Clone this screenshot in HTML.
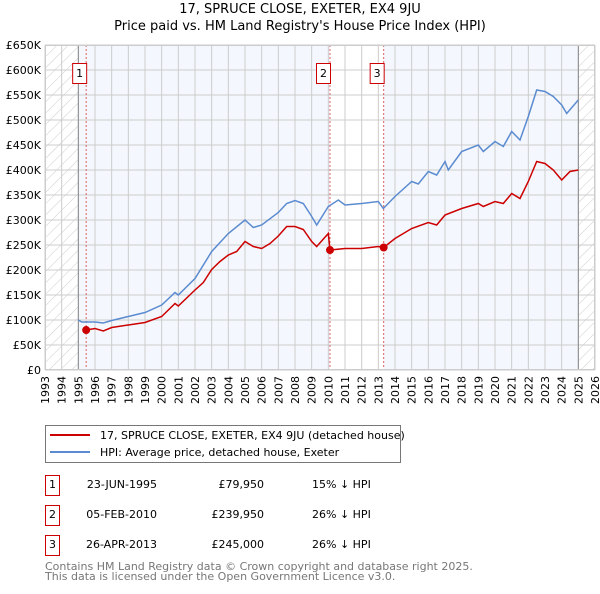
<!DOCTYPE html>
<html><head><meta charset="utf-8"><style>
body{margin:0;background:#fff;font-family:"DejaVu Sans","Liberation Sans",sans-serif;}
svg text{font-family:"DejaVu Sans","Liberation Sans",sans-serif;}
</style></head><body>
<svg id="chart" width="600" height="590" xmlns="http://www.w3.org/2000/svg">
<defs><pattern id="hatch" patternUnits="userSpaceOnUse" width="8" height="8" patternTransform="rotate(45)"><line x1="0" y1="0" x2="0" y2="8" stroke="#ccc" stroke-width="1"/></pattern></defs>
<text x="300" y="13" text-anchor="middle" font-size="13">17, SPRUCE CLOSE, EXETER, EX4 9JU</text>
<text x="300" y="30" text-anchor="middle" font-size="13">Price paid vs. HM Land Registry's House Price Index (HPI)</text>
<g id="plot"></g>
<g>
<rect x="45.5" y="425.5" width="355" height="37" fill="#fff" stroke="#777"/>
<line x1="50" y1="435" x2="90" y2="435" stroke="#cc0000" stroke-width="2"/>
<text x="100" y="439" font-size="11">17, SPRUCE CLOSE, EXETER, EX4 9JU (detached house)</text>
<line x1="50" y1="452" x2="90" y2="452" stroke="#5b8bd0" stroke-width="2"/>
<text x="100" y="456" font-size="11">HPI: Average price, detached house, Exeter</text>
</g>
<g font-size="11">
<rect x="45.5" y="475.5" width="14" height="20" fill="#fff" stroke="#cc0000"/><text x="52.5" y="488" text-anchor="middle">1</text>
<text x="157" y="488" text-anchor="end">23-JUN-1995</text><text x="264" y="488" text-anchor="end">£79,950</text><text x="312" y="488">15% ↓ HPI</text>
<rect x="45.5" y="505.5" width="14" height="20" fill="#fff" stroke="#cc0000"/><text x="52.5" y="518" text-anchor="middle">2</text>
<text x="157" y="518" text-anchor="end">05-FEB-2010</text><text x="264" y="518" text-anchor="end">£239,950</text><text x="312" y="518">26% ↓ HPI</text>
<rect x="45.5" y="535.5" width="14" height="20" fill="#fff" stroke="#cc0000"/><text x="52.5" y="548" text-anchor="middle">3</text>
<text x="157" y="548" text-anchor="end">26-APR-2013</text><text x="264" y="548" text-anchor="end">£245,000</text><text x="312" y="548">26% ↓ HPI</text>
</g>
<text x="45" y="570" font-size="11" fill="#777">Contains HM Land Registry data © Crown copyright and database right 2025.</text>
<text x="45" y="580" font-size="11" fill="#777">This data is licensed under the Open Government Licence v3.0.</text>
</svg>
<script>
const yTicks=[0,50,100,150,200,250,300,350,400,450,500,550,600,650];
const yTickLabels=["£0","£50K","£100K","£150K","£200K","£250K","£300K","£350K","£400K","£450K","£500K","£550K","£600K","£650K"];
const hpiYears=[1995,1995.2,1996,1996.5,1997,1998,1999,2000,2000.8,2001,2002,2003,2004,2005,2005.5,2006,2007,2007.5,2008,2008.5,2009,2009.3,2010,2010.6,2011,2012,2013,2013.3,2014,2015,2015.4,2016,2016.5,2017,2017.2,2018,2019,2019.3,2020,2020.5,2021,2021.5,2022,2022.5,2023,2023.5,2024,2024.3,2025];
const hpiValues=[100,96,96,94,99,107,115,130,155,150,183,237,273,300,285,290,315,333,339,333,307,290,327,340,330,333,337,323,347,377,372,397,390,417,400,437,450,437,457,447,477,460,507,560,557,547,530,513,540];
const priceYears=[1995.47,1996,1996.5,1997,1998,1999,2000,2000.8,2001,2002,2002.5,2003,2003.5,2004,2004.5,2005,2005.5,2006,2006.5,2007,2007.5,2008,2008.5,2009,2009.3,2010,2010.1,2011,2012,2013,2013.32,2014,2015,2016,2016.5,2017,2018,2019,2019.3,2020,2020.5,2021,2021.5,2022,2022.5,2023,2023.5,2024,2024.5,2025];
const priceValues=[80,83,78,85,90,95,107,133,128,160,175,201,217,230,237,257,247,243,253,268,287,287,281,257,247,273,240,243,243,247,245,263,283,295,290,310,323,333,327,337,333,353,343,377,417,413,400,380,397,400];
const saleYears=[1995.47,2010.1,2013.32];
const saleValues=[79.95,239.95,245];
const saleLabels=["1","2","3"];
const xTickYears=[1993,1994,1995,1996,1997,1998,1999,2000,2001,2002,2003,2004,2005,2006,2007,2008,2009,2010,2011,2012,2013,2014,2015,2016,2017,2018,2019,2020,2021,2022,2023,2024,2025,2026];
const X0=45,X1=595,Y0=370,Y1=45;
const x=y=>X0+(y-1993)*(X1-X0)/33;
const yy=v=>Y0-(v/650)*(Y0-Y1);
const NS="http://www.w3.org/2000/svg";
const g=document.getElementById('plot');
function mk(t,a){const e=document.createElementNS(NS,t);for(const k in a)e.setAttribute(k,a[k]);g.appendChild(e);return e;}
let e;
e=mk('rect',{x:x(1995),y:Y1,width:x(2025.0)-x(1995),height:Y0-Y1,fill:'#f4f7fd'});


e=mk('rect',{x:x(saleYears[1]),y:Y1,width:x(saleYears[2])-x(saleYears[1]),height:Y0-Y1,fill:'#fff'});


e=mk('rect',{x:X0,y:Y1,width:x(1995)-X0,height:Y0-Y1,fill:'url(#hatch)'});


e=mk('rect',{x:x(2025.0),y:Y1,width:X1-x(2025.0),height:Y0-Y1,fill:'url(#hatch)'});


xTickYears.forEach(yr=>{e=mk('line',{x1:x(yr),x2:x(yr),y1:Y1,y2:Y0,stroke:'#ccc'});


e=mk('text',{x:x(yr)+4,y:Y0+6,'font-size':11,transform:`rotate(-90 ${x(yr)+4} ${Y0+6})`,'text-anchor':'end'});e.textContent=yr;

});
yTicks.forEach((v,i)=>{e=mk('line',{x1:X0,x2:X1,y1:yy(v),y2:yy(v),stroke:'#ccc'});


e=mk('text',{x:X0-4,y:yy(v)+4,'font-size':11,'text-anchor':'end'});e.textContent=yTickLabels[i];

});
e=mk('line',{x1:x(1995),x2:x(1995),y1:Y1,y2:Y0,stroke:'#888'});


e=mk('line',{x1:x(2025),x2:x(2025),y1:Y1,y2:Y0,stroke:'#888'});


saleYears.forEach((s,i)=>{e=mk('line',{x1:x(s),x2:x(s),y1:Y1,y2:Y0,stroke:'#e06060','stroke-dasharray':'2,2'});


e=mk('rect',{x:x(s)-13.5,y:63.5,width:14,height:20,fill:'#fff',stroke:'#cc0000'});


e=mk('text',{x:x(s)-6.5,y:77,'font-size':11,'text-anchor':'middle'});e.textContent=saleLabels[i];

});
const pts=(xs,vs)=>xs.map((v,i)=>x(v).toFixed(1)+','+yy(vs[i]).toFixed(1)).join(' ');
e=mk('polyline',{points:pts(hpiYears,hpiValues),fill:'none',stroke:'#5b8bd0','stroke-width':1.5});


e=mk('polyline',{points:pts(priceYears,priceValues),fill:'none',stroke:'#cc0000','stroke-width':1.5});


saleYears.forEach((s,i)=>{e=mk('circle',{cx:x(s),cy:yy(saleValues[i]),r:4,fill:'#cc0000'});

});
e=mk('rect',{x:X0+0.5,y:Y1+0.5,width:X1-X0-1,height:Y0-Y1-1,fill:'none',stroke:'#ccc'});


</script>
</body></html>
